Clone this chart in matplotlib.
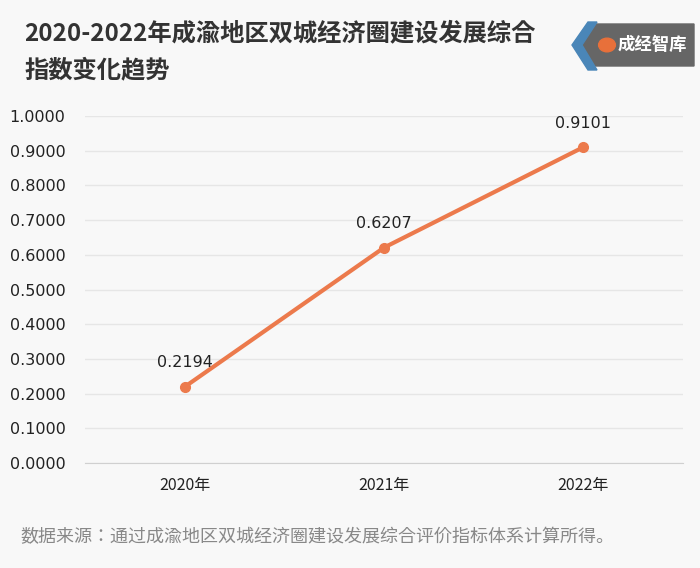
import matplotlib
matplotlib.use("Agg")
import matplotlib.pyplot as plt
from matplotlib.patches import Polygon

categories = ["2020年", "2021年", "2022年"]
values = [0.2194, 0.6207, 0.9101]
yticks = [0.0, 0.1, 0.2, 0.3, 0.4, 0.5, 0.6, 0.7, 0.8, 0.9, 1.0]

plt.rcParams["font.family"] = ["Noto Sans CJK JP", "Noto Sans CJK SC", "DejaVu Sans"]
bg = "#f8f8f8"
fig = plt.figure(figsize=(7.0, 5.68), dpi=100, facecolor=bg)
ax = fig.add_axes([85/700, 1-463/568, (683-85)/700, (463-116)/568])
ax.set_facecolor(bg)
x = list(range(len(categories)))
ax.plot(x, values, color="#ec7a4c", lw=3, marker="o", ms=7, zorder=3)
for xi, v in zip(x, values):
    ax.annotate(f"{v:.4f}", (xi, v), xytext=(0, 12), textcoords="offset points",
                ha="center", va="bottom", fontsize=11.5, color="#222222",
                fontfamily="DejaVu Sans")
ax.set_xlim(-0.5, 2.5)
ax.set_ylim(0, 1.0)
ax.set_yticks(yticks)
ax.set_yticklabels([f"{t:.4f}" for t in yticks], fontfamily="DejaVu Sans")
ax.set_xticks(x)
ax.set_xticklabels(categories)
ax.tick_params(axis="both", length=0, labelsize=11.5, colors="#222222", pad=10)
ax.tick_params(axis="y", pad=14)
ax.grid(axis="y", color="#e6e6e6", lw=1)
for s in ax.spines.values():
    s.set_visible(False)
ax.spines["bottom"].set_visible(True)
ax.spines["bottom"].set_color("#d0d0d0")

fig.text(24/700, 1-33/568, "2020-2022年成渝地区双城经济圈建设发展综合", fontsize=17.5,
         fontweight="bold", color="#333333", va="center")
fig.text(24/700, 1-70/568, "指数变化趋势", fontsize=17.5, fontweight="bold",
         color="#333333", va="center")
fig.text(20/700, 1-537/568, "数据来源：通过成渝地区双城经济圈建设发展综合评价指标体系计算所得。",
         fontsize=13, color="#888888", va="center")

# logo badge
fig.patches.append(Polygon([[590/700, 1-24/568], [694/700, 1-24/568], [694/700, 1-66/568],
                            [590/700, 1-66/568], [578/700, 1-45/568]],
                           closed=True, transform=fig.transFigure, color="#666666"))
fig.patches.append(Polygon([[588/700, 1-22/568], [597/700, 1-22/568], [582/700, 1-45/568],
                            [597/700, 1-70/568], [588/700, 1-70/568], [572/700, 1-45/568]],
                           closed=True, transform=fig.transFigure, color="#4a86b8"))
fig.text(652/700, 1-45/568, "成经智库", fontsize=12.5, fontweight="bold", color="white",
         ha="center", va="center")
fig.patches.append(plt.Circle((607/700, 1-45/568), 0.012, transform=fig.transFigure,
                              color="#e8703a"))
fig.savefig("out.png", dpi=100, facecolor=bg)
